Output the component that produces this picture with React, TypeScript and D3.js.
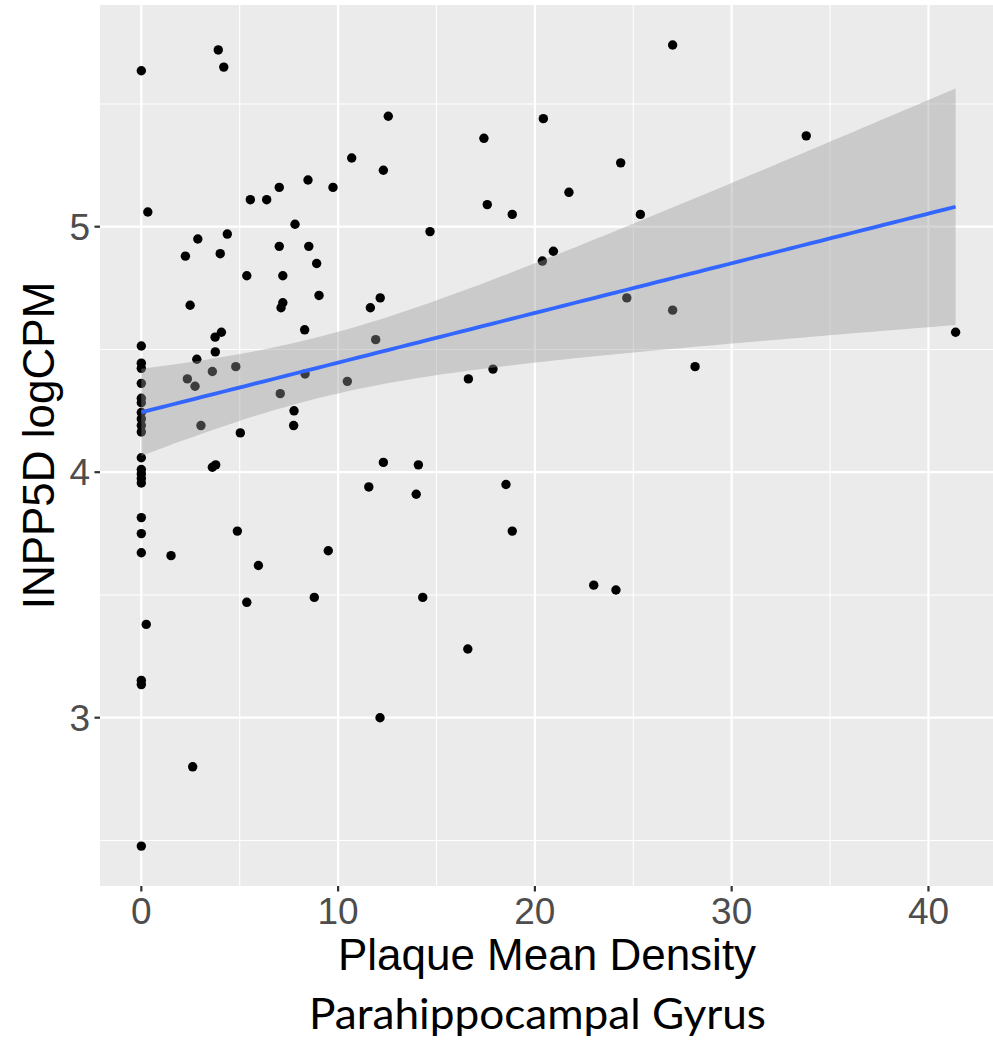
import React from "react";
import * as d3 from "d3";

// ---- data ----
const plaqueDensity: number[] = [
  0, 0, 0, 0, 0, 0, 0, 0, 0, 0, 0, 0, 0, 0, 0, 0, 0, 0, 0, 0, 0, 0,
  0.33, 3.91, 4.19, 8.47, 9.74, 7.01, 5.54, 6.37, 7.81, 2.87, 4.37, 2.24, 4.01, 7.01, 8.51, 8.91,
  5.36, 7.19, 2.48, 7.19, 7.10, 9.03, 4.07, 3.75, 8.30, 3.76, 2.82, 2.34, 2.73, 3.03, 3.61, 3.61,
  3.78, 4.80, 5.03, 4.88, 5.95, 5.36, 7.06, 7.76, 7.74, 8.32, 8.79, 9.50, 0.25, 1.51, 2.61,
  12.55, 17.41, 20.43, 10.69, 12.30, 24.36, 17.58, 18.85, 21.73, 25.36, 14.67, 20.94, 20.38,
  12.14, 11.64, 24.67, 11.91, 10.47, 16.62, 17.87, 12.30, 14.08, 11.56, 13.97, 18.53, 18.85,
  14.30, 22.99, 24.12, 16.59, 27.0, 33.79, 27.0, 28.14, 41.38, 12.13,
];
const inpp5dLogCPM: number[] = [
  5.635, 4.514, 4.444, 4.423, 4.362, 4.301, 4.283, 4.243, 4.217, 4.19, 4.164, 4.059, 4.011, 3.993,
  3.974, 3.956, 3.815, 3.75, 3.672, 3.152, 3.135, 2.477,
  5.06, 5.72, 5.65, 5.19, 5.16, 5.16, 5.11, 5.11, 5.01, 4.95, 4.97, 4.88, 4.89, 4.92, 4.92, 4.85,
  4.8, 4.8, 4.68, 4.69, 4.67, 4.72, 4.57, 4.55, 4.58, 4.49, 4.46, 4.38, 4.35, 4.19, 4.41, 4.02,
  4.03, 4.43, 4.16, 3.76, 3.62, 3.47, 4.32, 4.25, 4.19, 4.4, 3.49, 3.68, 3.38, 3.66, 2.8,
  5.45, 5.36, 5.44, 5.28, 5.23, 5.26, 5.09, 5.05, 5.14, 5.05, 4.98, 4.9, 4.86,
  4.71, 4.67, 4.71, 4.54, 4.37, 4.38, 4.42, 4.04, 4.03, 3.94, 3.91, 3.95, 3.76,
  3.49, 3.54, 3.52, 3.28, 5.74, 5.37, 4.66, 4.43, 4.57, 3.0,
];
const xTicks: number[] = [0, 10, 20, 30, 40];
const xMinor: number[] = [5, 15, 25, 35];
const yTicks: number[] = [3, 4, 5];
const yMinor: number[] = [2.5, 3.5, 4.5, 5.5];
const xTitle = "Plaque Mean Density";
const yTitle = "INPP5D logCPM";
const subTitle = "Parahippocampal Gyrus";
const T95 = 1.98; // t quantile (0.975, n-2)

// ---- layout ----
const W = 993;
const H = 1042;
const P = { left: 100, right: 993, top: 5, bottom: 886 };

export default function App() {
  const x = d3.scaleLinear().domain([-2.1, 43.28]).range([P.left, P.right]);
  const y = d3.scaleLinear().domain([2.3145, 5.903]).range([P.bottom, P.top]);

  // linear model (like geom_smooth(method = "lm"))
  const n = plaqueDensity.length;
  const xbar = d3.mean(plaqueDensity) as number;
  const ybar = d3.mean(inpp5dLogCPM) as number;
  let sxx = 0, sxy = 0;
  for (let i = 0; i < n; i++) {
    sxx += (plaqueDensity[i] - xbar) ** 2;
    sxy += (plaqueDensity[i] - xbar) * (inpp5dLogCPM[i] - ybar);
  }
  const b = sxy / sxx;
  const a = ybar - b * xbar;
  let sse = 0;
  for (let i = 0; i < n; i++) sse += (inpp5dLogCPM[i] - (a + b * plaqueDensity[i])) ** 2;
  const s = Math.sqrt(sse / (n - 2));
  const [xmin, xmax] = d3.extent(plaqueDensity) as [number, number];
  const grid = d3.range(80).map((i) => xmin + ((xmax - xmin) * i) / 79);
  const fit = grid.map((gx) => {
    const se = s * Math.sqrt(1 / n + (gx - xbar) ** 2 / sxx);
    const f = a + b * gx;
    return { gx, f, lo: f - T95 * se, hi: f + T95 * se };
  });
  const area = d3
    .area<any>()
    .x((d) => x(d.gx))
    .y0((d) => y(d.lo))
    .y1((d) => y(d.hi));
  const line = d3
    .line<any>()
    .x((d) => x(d.gx))
    .y((d) => y(d.f));

  const sans = "'Liberation Sans', Arial, Helvetica, sans-serif";

  return (
    <svg
      width={W}
      height={H}
      style={{ position: "absolute", left: 0, top: 0, background: "#fff" }}
    >
      <defs>
        <clipPath id="panel">
          <rect x={P.left} y={P.top} width={P.right - P.left} height={P.bottom - P.top} />
        </clipPath>
      </defs>
      <rect x={P.left} y={P.top} width={P.right - P.left} height={P.bottom - P.top} fill="#EBEBEB" />
      <g clipPath="url(#panel)">
        {xMinor.map((t) => (
          <line key={"xm" + t} x1={x(t)} x2={x(t)} y1={P.top} y2={P.bottom} stroke="#fff" strokeWidth={1.1} />
        ))}
        {yMinor.map((t) => (
          <line key={"ym" + t} x1={P.left} x2={P.right} y1={y(t)} y2={y(t)} stroke="#fff" strokeWidth={1.1} />
        ))}
        {xTicks.map((t) => (
          <line key={"xg" + t} x1={x(t)} x2={x(t)} y1={P.top} y2={P.bottom} stroke="#fff" strokeWidth={2.2} />
        ))}
        {yTicks.map((t) => (
          <line key={"yg" + t} x1={P.left} x2={P.right} y1={y(t)} y2={y(t)} stroke="#fff" strokeWidth={2.2} />
        ))}
        {plaqueDensity.map((d, i) => (
          <circle key={"p" + i} cx={x(d)} cy={y(inpp5dLogCPM[i])} r={4.7} fill="#000" />
        ))}
        <path d={area(fit) as string} fill="#999999" fillOpacity={0.4} />
        <path d={line(fit) as string} fill="none" stroke="#3366FF" strokeWidth={3.8} />
      </g>
      {/* ticks */}
      {xTicks.map((t) => (
        <g key={"xt" + t}>
          <line x1={x(t)} x2={x(t)} y1={P.bottom} y2={P.bottom + 5.5} stroke="#333" strokeWidth={2.2} />
          <text x={x(t)} y={923.5} textAnchor="middle" fontFamily={sans} fontSize={37} fill="#4D4D4D">
            {t}
          </text>
        </g>
      ))}
      {yTicks.map((t) => (
        <g key={"yt" + t}>
          <line x1={P.left - 5.5} x2={P.left} y1={y(t)} y2={y(t)} stroke="#333" strokeWidth={2.2} />
          <text x={90} y={y(t) + 13.3} textAnchor="end" fontFamily={sans} fontSize={37} fill="#4D4D4D">
            {t}
          </text>
        </g>
      ))}
      {/* titles */}
      <text x={547} y={970} textAnchor="middle" fontFamily={sans} fontSize={44} fill="#000">
        {xTitle}
      </text>
      <text
        transform={`translate(53.5, ${(P.top + P.bottom) / 2}) rotate(-90)`}
        textAnchor="middle"
        fontFamily={sans}
        fontSize={44}
        fill="#000"
      >
        {yTitle}
      </text>
      <text
        x={309}
        y={1029}
        fontFamily="Lato, 'Open Sans', sans-serif"
        fontSize={43}
        textLength={457}
        lengthAdjust="spacingAndGlyphs"
        fill="#000"
      >
        {subTitle}
      </text>
    </svg>
  );
}
